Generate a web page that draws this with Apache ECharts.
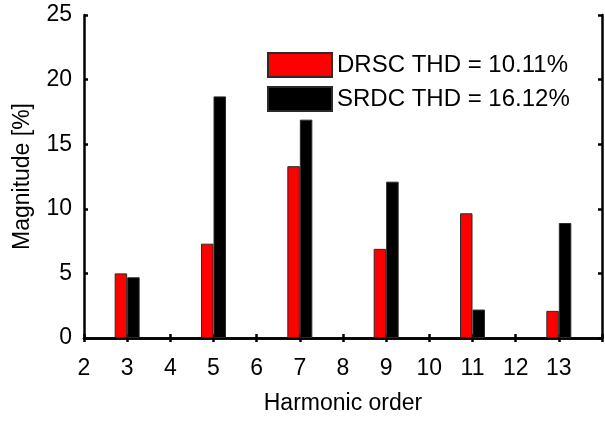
<!DOCTYPE html>
<html>
<head>
<meta charset="utf-8">
<script src="https://cdn.jsdelivr.net/npm/echarts@6/dist/echarts.min.js"></script>
<style>
  html, body { margin: 0; padding: 0; background: #fff; }
  #chart { width: 605px; height: 424px; }
</style>
</head>
<body>
<div id="chart"></div>
<script>
// Harmonic orders along the x axis (14 closes the range and carries no label)
const orders = ['2', '3', '4', '5', '6', '7', '8', '9', '10', '11', '12', '13', '14'];
// Harmonic magnitudes in percent of the fundamental; even orders are absent
const drsc = [null, 5.0, null, 7.3, null, 13.3, null, 6.9, null, 9.65, null, 2.1, null];
const srdc = [null, 4.7, null, 18.7, null, 16.9, null, 12.1, null, 2.2, null, 8.9, null];
const seriesNames = ['DRSC THD = 10.11%', 'SRDC THD = 16.12%'];
const yTicks = { min: 0, max: 25, interval: 5 };

const FONT = 'Liberation Sans, Arial, sans-serif';
const FS = 23;
const boxLine = { show: true, lineStyle: { color: '#000', width: 2.5 } };
const tickIn = { show: true, inside: true, length: 4, lineStyle: { color: '#000', width: 2.5 } };

const chart = echarts.init(document.getElementById('chart'), null, { renderer: 'canvas' });
chart.setOption({
  animation: false,
  backgroundColor: '#fff',
  textStyle: { fontFamily: FONT },
  grid: { left: 84, right: 2, top: 15, bottom: 86, containLabel: false },
  legend: {
    orient: 'vertical',
    left: 267,
    top: 52,
    padding: 0,
    itemWidth: 64,
    itemHeight: 24,
    itemGap: 8,
    icon: 'rect',
    textStyle: { fontSize: 24, color: '#000', fontFamily: FONT },
    data: seriesNames
  },
  xAxis: [
    {
      type: 'category',
      data: orders,
      boundaryGap: false,
      position: 'bottom',
      axisLine: boxLine,
      axisTick: Object.assign({ interval: 0 }, tickIn),
      axisLabel: {
        interval: 0, margin: 19, fontSize: FS, color: '#000', fontFamily: FONT,
        formatter: v => (v === '14' ? '' : v)
      },
      splitLine: { show: false },
      name: 'Harmonic order',
      nameLocation: 'middle',
      nameGap: 54,
      nameTextStyle: { fontSize: FS, color: '#000', fontFamily: FONT }
    },
    {
      type: 'category',
      data: orders,
      boundaryGap: false,
      position: 'top',
      axisLine: boxLine,
      axisTick: Object.assign({ interval: 0 }, tickIn),
      axisLabel: { show: false },
      splitLine: { show: false }
    }
  ],
  yAxis: [
    {
      type: 'value',
      min: yTicks.min, max: yTicks.max, interval: yTicks.interval,
      position: 'left',
      axisLine: boxLine,
      axisTick: tickIn,
      axisLabel: { margin: 12, fontSize: FS, color: '#000', fontFamily: FONT },
      splitLine: { show: false },
      name: 'Magnitude [%]',
      nameLocation: 'middle',
      nameGap: 50,
      nameTextStyle: { fontSize: FS, color: '#000', fontFamily: FONT }
    },
    {
      type: 'value',
      min: yTicks.min, max: yTicks.max, interval: yTicks.interval,
      position: 'right',
      axisLine: boxLine,
      axisTick: tickIn,
      axisLabel: { show: false },
      splitLine: { show: false }
    }
  ],
  series: [
    {
      name: seriesNames[0],
      type: 'bar',
      data: drsc,
      barWidth: 12.5,
      barGap: '0%',
      itemStyle: { color: '#ff0000', borderColor: '#2a2a2a', borderWidth: 1 }
    },
    {
      name: seriesNames[1],
      type: 'bar',
      data: srdc,
      barWidth: 12.5,
      barGap: '0%',
      itemStyle: { color: '#000000', borderColor: '#2a2a2a', borderWidth: 1 }
    }
  ]
});
</script>
</body>
</html>
